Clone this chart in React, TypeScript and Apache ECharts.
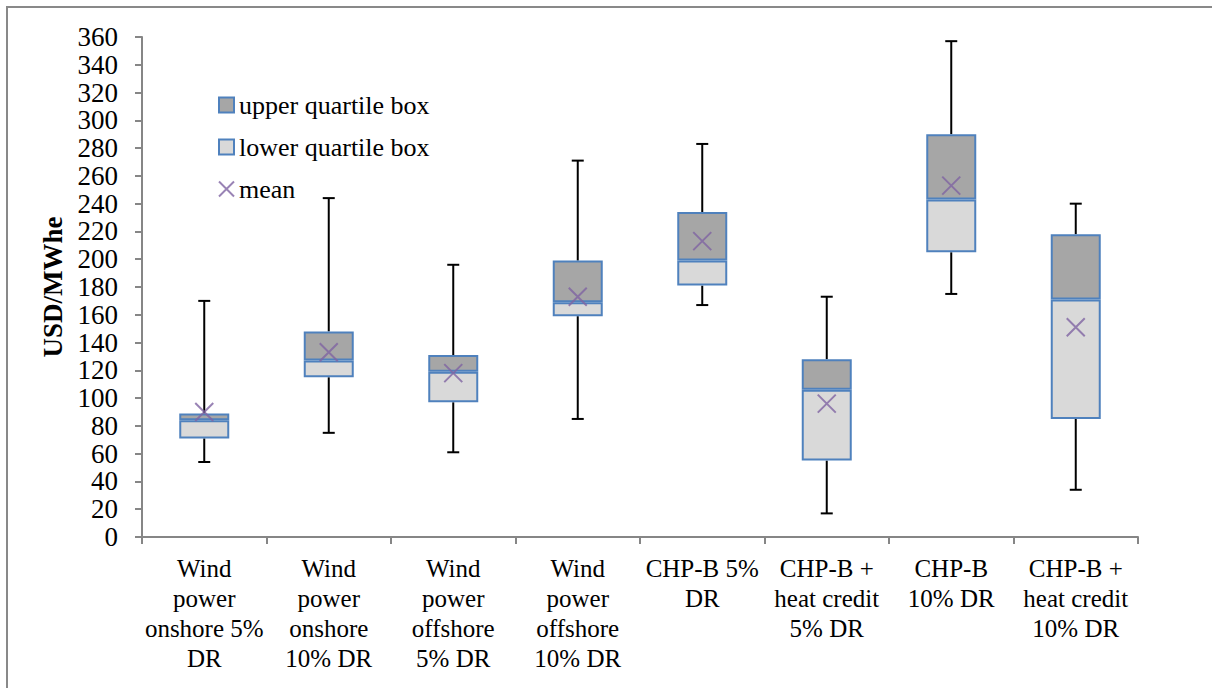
import React, { useEffect, useRef } from "react";
import * as echarts from "echarts";

const categories = [
  "Wind\npower\nonshore 5%\nDR",
  "Wind\npower\nonshore\n10% DR",
  "Wind\npower\noffshore\n5% DR",
  "Wind\npower\noffshore\n10% DR",
  "CHP-B 5%\nDR",
  "CHP-B +\nheat credit\n5% DR",
  "CHP-B\n10% DR",
  "CHP-B +\nheat credit\n10% DR",
];
const whiskerMin = [54, 75, 61, 85, 167, 17, 175, 34];
const q1 = [71, 115, 97, 159, 181, 55, 205, 85];
const median = [84, 127, 119, 169, 199, 106, 243, 171];
const q3 = [89, 148, 131, 199, 234, 128, 290, 218];
const whiskerMax = [170, 244, 196, 271, 283, 173, 357, 240];
const mean = [90, 133, 118, 173, 213, 96, 253, 151];
const yTicks = { min: 0, max: 360, interval: 20 };

const FONT = "Liberation Serif";
const AXIS_COLOR = "#868686";
const BORDER_BLUE = "#4f81bd";

export default function App() {
  const ref = useRef<HTMLDivElement>(null);
  useEffect(() => {
    if (!ref.current) return;
    const chart = echarts.init(ref.current, null, { renderer: "svg" });
    const lowerBox = median.map((m, i) => m - q1[i]);
    const upperBox = q3.map((v, i) => v - median[i]);
    const whiskerData = categories.map((_, i) => [i, whiskerMin[i], q1[i], q3[i], whiskerMax[i]]);
    chart.setOption({
      animation: false,
      backgroundColor: "#ffffff",
      textStyle: { fontFamily: FONT },
      grid: { left: 142, right: 74, top: 37, bottom: 151, containLabel: false },
      legend: {
        orient: "vertical",
        left: 218,
        top: 92,
        padding: 0,
        itemWidth: 15,
        itemHeight: 15,
        itemGap: 16,
        data: [
          { name: "upper quartile box", icon: "rect" },
          { name: "lower quartile box", icon: "rect" },
          { name: "mean" },
        ],
        textStyle: { fontFamily: FONT, fontSize: 26, color: "#000" },
        selectedMode: false,
      },
      xAxis: {
        type: "category",
        data: categories,
        boundaryGap: true,
        axisLine: { lineStyle: { color: AXIS_COLOR, width: 2 } },
        axisTick: { show: true, length: 7, lineStyle: { color: AXIS_COLOR, width: 2 } },
        axisLabel: {
          interval: 0,
          fontFamily: FONT,
          fontSize: 25,
          lineHeight: 30,
          color: "#000",
          margin: 16,
          align: "center",
        },
      },
      yAxis: {
        type: "value",
        min: yTicks.min,
        max: yTicks.max,
        interval: yTicks.interval,
        name: "USD/MWhe",
        nameLocation: "middle",
        nameGap: 68,
        nameTextStyle: { fontFamily: FONT, fontSize: 27, fontWeight: "bold", color: "#000" },
        splitLine: { show: false },
        axisLine: { show: true, lineStyle: { color: AXIS_COLOR, width: 2 } },
        axisTick: { show: true, length: 7, lineStyle: { color: AXIS_COLOR, width: 2 } },
        axisLabel: { fontFamily: FONT, fontSize: 27, color: "#000", margin: 24 },
      },
      series: [
        {
          name: "base",
          type: "bar",
          stack: "box",
          barWidth: 50,
          data: q1,
          itemStyle: { color: "transparent" },
          silent: true,
        },
        {
          name: "lower quartile box",
          type: "bar",
          stack: "box",
          barWidth: 50,
          data: lowerBox,
          itemStyle: { color: "#d9d9d9", borderColor: BORDER_BLUE, borderWidth: 2 },
          z: 3,
        },
        {
          name: "upper quartile box",
          type: "bar",
          stack: "box",
          barWidth: 50,
          data: upperBox,
          itemStyle: { color: "#a6a6a6", borderColor: BORDER_BLUE, borderWidth: 2 },
          z: 3,
        },
        {
          name: "whiskers",
          type: "custom",
          data: whiskerData,
          z: 2,
          encode: { x: 0, y: [1, 2, 3, 4] },
          renderItem: (params: any, api: any) => {
            const idx = api.value(0);
            const pMin = api.coord([idx, api.value(1)]);
            const pQ1 = api.coord([idx, api.value(2)]);
            const pQ3 = api.coord([idx, api.value(3)]);
            const pMax = api.coord([idx, api.value(4)]);
            const x = pMin[0];
            const hw = 6;
            const style = { stroke: "#000", lineWidth: 2 };
            return {
              type: "group",
              children: [
                { type: "line", shape: { x1: x, y1: pMin[1], x2: x, y2: pQ1[1] }, style },
                { type: "line", shape: { x1: x, y1: pQ3[1], x2: x, y2: pMax[1] }, style },
                { type: "line", shape: { x1: x - hw, y1: pMin[1], x2: x + hw, y2: pMin[1] }, style },
                { type: "line", shape: { x1: x - hw, y1: pMax[1], x2: x + hw, y2: pMax[1] }, style },
              ],
            };
          },
        },
        {
          name: "mean",
          type: "scatter",
          data: mean,
          z: 5,
          symbol: "path://M0,0L10,10M10,0L0,10",
          symbolSize: 18,
          itemStyle: { color: "transparent", borderColor: "#8064a2", borderWidth: 2 },
        },
      ],
      graphic: [
        {
          type: "polyline",
          shape: { points: [[7, 700], [7, 7], [1220, 7]] },
          style: { stroke: "#898989", lineWidth: 2, fill: "none" },
          silent: true,
        },
      ],
    });
    return () => chart.dispose();
  }, []);
  return (
    <div
      ref={ref}
      style={{ position: "absolute", left: 0, top: 0, width: 1212, height: 688, background: "#fff" }}
    />
  );
}
